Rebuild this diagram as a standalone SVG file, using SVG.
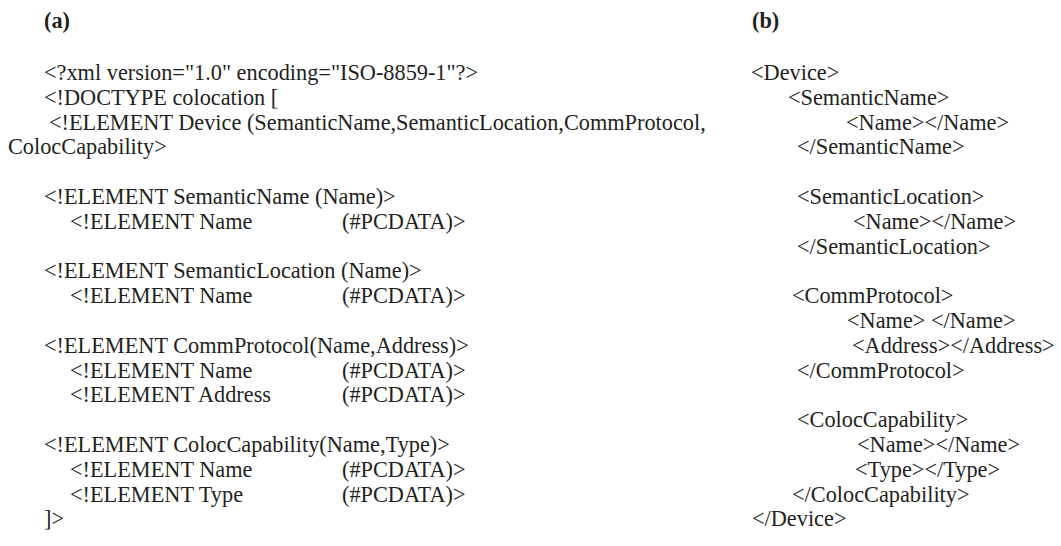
<svg xmlns="http://www.w3.org/2000/svg" width="1061" height="546" viewBox="0 0 1061 546">
<style>
text{font-family:"Liberation Serif","Times New Roman",serif;font-size:22.3px;fill:#231f20}
.b{font-weight:bold}
</style>
<rect width="1061" height="546" fill="#fff"/>
<g id="panel-a">
<text class="b" x="44" y="28">(a)</text>
<text x="44" y="80">&lt;?xml version="1.0" encoding="ISO-8859-1"?&gt;</text>
<text x="44" y="104.8">&lt;!DOCTYPE colocation [</text>
<text x="49" y="129.6">&lt;!ELEMENT Device (SemanticName,SemanticLocation,CommProtocol,</text>
<text x="8" y="154.4">ColocCapability&gt;</text>
<text x="44" y="204">&lt;!ELEMENT SemanticName (Name)&gt;</text>
<text x="70" y="228.8">&lt;!ELEMENT Name</text><text x="342" y="228.8">(#PCDATA)&gt;</text>
<text x="44" y="278.4">&lt;!ELEMENT SemanticLocation (Name)&gt;</text>
<text x="70" y="303.2">&lt;!ELEMENT Name</text><text x="342" y="303.2">(#PCDATA)&gt;</text>
<text x="44" y="352.8">&lt;!ELEMENT CommProtocol(Name,Address)&gt;</text>
<text x="70" y="377.6">&lt;!ELEMENT Name</text><text x="342" y="377.6">(#PCDATA)&gt;</text>
<text x="70" y="402.4">&lt;!ELEMENT Address</text><text x="342" y="402.4">(#PCDATA)&gt;</text>
<text x="44" y="452">&lt;!ELEMENT ColocCapability(Name,Type)&gt;</text>
<text x="70" y="476.8">&lt;!ELEMENT Name</text><text x="342" y="476.8">(#PCDATA)&gt;</text>
<text x="70" y="501.6">&lt;!ELEMENT Type</text><text x="342" y="501.6">(#PCDATA)&gt;</text>
<text x="44" y="526.4">]&gt;</text>
</g>
<g id="panel-b">
<text class="b" x="752" y="28">(b)</text>
<text x="751" y="80">&lt;Device&gt;</text>
<text x="788" y="104.8">&lt;SemanticName&gt;</text>
<text x="846" y="129.6">&lt;Name&gt;&lt;/Name&gt;</text>
<text x="797" y="154.4">&lt;/SemanticName&gt;</text>
<text x="797" y="204">&lt;SemanticLocation&gt;</text>
<text x="853" y="228.8">&lt;Name&gt;&lt;/Name&gt;</text>
<text x="797" y="253.6">&lt;/SemanticLocation&gt;</text>
<text x="792" y="303.2">&lt;CommProtocol&gt;</text>
<text x="847" y="328" xml:space="preserve">&lt;Name&gt; &lt;/Name&gt;</text>
<text x="852" y="352.8">&lt;Address&gt;&lt;/Address&gt;</text>
<text x="797" y="377.6">&lt;/CommProtocol&gt;</text>
<text x="797" y="427.2">&lt;ColocCapability&gt;</text>
<text x="857" y="452">&lt;Name&gt;&lt;/Name&gt;</text>
<text x="855" y="476.8">&lt;Type&gt;&lt;/Type&gt;</text>
<text x="792" y="501.6">&lt;/ColocCapability&gt;</text>
<text x="752" y="526.4">&lt;/Device&gt;</text>
</g>
</svg>
